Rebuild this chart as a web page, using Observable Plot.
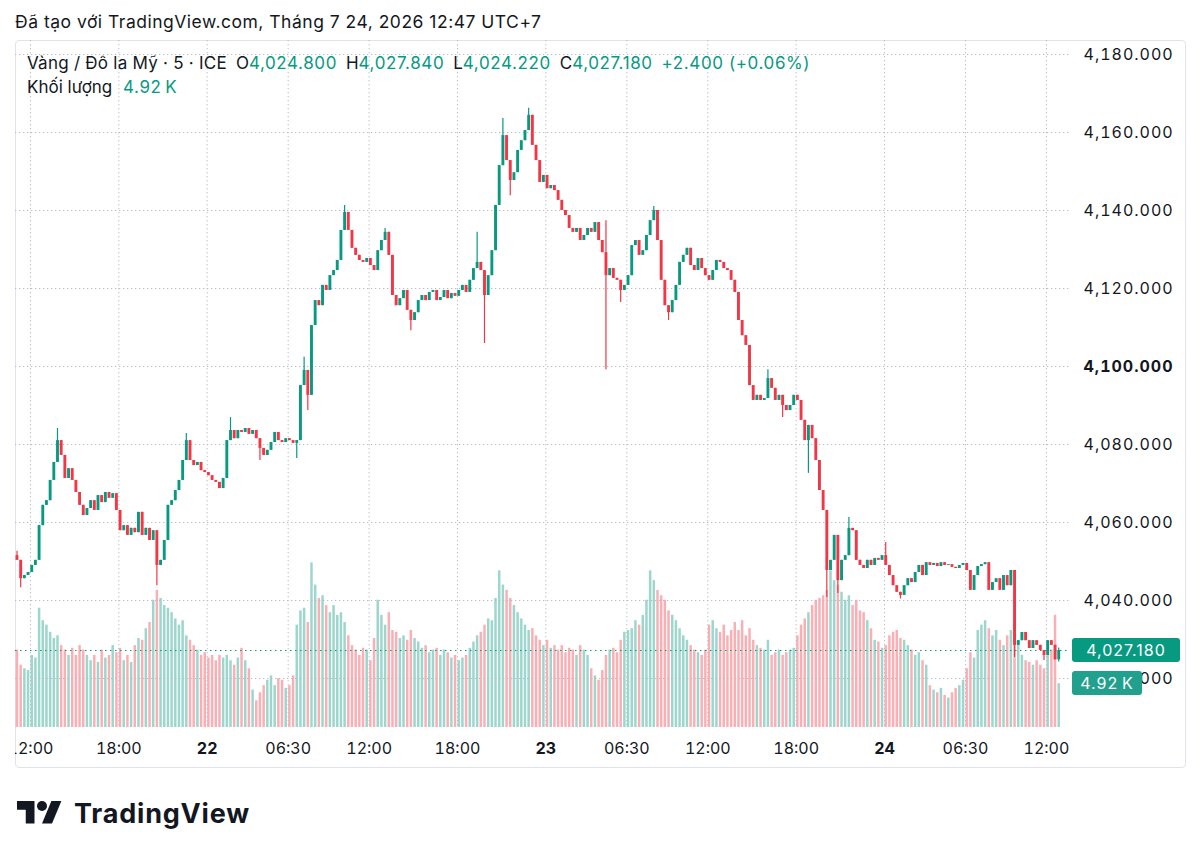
<!DOCTYPE html>
<html lang="vi">
<head>
<meta charset="utf-8">
<script src="https://cdn.jsdelivr.net/npm/d3@7"></script>
<script src="https://cdn.jsdelivr.net/npm/@observablehq/plot@0.6"></script>
<style>
  html, body { margin: 0; background: #fff; }
  body { font-family: Inter, "Noto Sans", sans-serif; color: #131722; }
  #page { position: relative; width: 1200px; height: 857px; overflow: hidden; }
  #credit { position: absolute; left: 15px; top: 11px; font-size: 17.5px; letter-spacing: 0.5px; line-height: 22px; white-space: nowrap; }
  #frame { position: absolute; left: 15px; top: 40px; width: 1171px; height: 728px; box-sizing: border-box; border: 1px solid #e0e3eb; border-radius: 4px; }
  .layer { position: absolute; left: 15px; top: 40px; }
  #legend { position: absolute; left: 27px; top: 51px; font-size: 17px; line-height: 24px; white-space: nowrap; }
  #legend .title { letter-spacing: 0.25px; }
  #legend .v { color: #089981; letter-spacing: 0.6px; }
  #legend .gap { margin-left: 9px; }
  .tag { position: absolute; color: #fff; font-size: 16px; letter-spacing: 1px; height: 24px; line-height: 24px; text-align: center; border-radius: 3px; }
  #brand { position: absolute; left: 17px; top: 796px; display: flex; align-items: center; }
  #brand span { font-size: 27px; font-weight: 700; letter-spacing: 0.8px; margin-left: 12px; color: #131722; }
  .price-axis text { letter-spacing: 1px; }
</style>
</head>
<body>
<div id="page">
  <div id="credit">Đã tạo với TradingView.com, Tháng 7 24, 2026 12:47 UTC+7</div>
  <div id="frame"></div>
  <div id="vol" class="layer"></div>
  <div id="price" class="layer"></div>
  <div id="legend"></div>
  <div id="brand">
    <svg width="45" height="35" viewBox="0 0 36 28" fill="#131722"><path d="M14 22H7V11H0V4h14v18zM28 22h-8l7.5-18h8L28 22z"/><circle cx="20" cy="8" r="4"/></svg>
    <span>TradingView</span>
  </div>
</div>
<script>
// XAU/USD, 15-minute bars from 21st 11:00 to 24th 12:45 (UTC+7); the last bar is the live 12:45 bar.
const firstOpen = 4051.5;
const closes = [
  4050.3, 4045.6, 4046.4, 4047.2, 4049.0, 4050.3, 4059.2, 4064.4, 4065.6, 4070.8,
  4075.4, 4081.0, 4077.2, 4071.3, 4073.8, 4070.8, 4067.7, 4064.4, 4061.8, 4063.6,
  4065.6, 4063.1, 4066.9, 4065.1, 4067.7, 4066.2, 4067.4, 4063.1, 4057.9, 4059.2,
  4056.7, 4058.5, 4057.4, 4062.6, 4056.7, 4058.5, 4055.4, 4057.9, 4049.0, 4050.3,
  4055.4, 4064.4, 4065.6, 4068.2, 4070.8, 4075.9, 4081.0, 4075.9, 4074.6, 4075.4,
  4073.3, 4072.8, 4072.0, 4070.8, 4070.3, 4068.7, 4071.3, 4081.0, 4083.6, 4081.5,
  4083.6, 4083.1, 4084.1, 4082.6, 4083.6, 4081.5, 4079.0, 4077.2, 4078.5, 4080.5,
  4083.1, 4081.0, 4080.5, 4081.5, 4081.0, 4080.3, 4081.0, 4095.1, 4099.0, 4092.6,
  4110.5, 4116.9, 4115.6, 4120.8, 4119.5, 4123.3, 4124.6, 4127.2, 4134.9, 4139.5,
  4134.9, 4130.3, 4128.5, 4127.2, 4126.7, 4127.7, 4125.9, 4124.6, 4129.7, 4132.3,
  4134.4, 4128.5, 4118.2, 4115.6, 4117.4, 4119.5, 4114.4, 4111.8, 4113.8, 4116.9,
  4118.2, 4116.9, 4119.0, 4119.5, 4116.9, 4117.7, 4119.5, 4117.4, 4118.7, 4118.0,
  4119.5, 4120.8, 4119.0, 4122.1, 4125.1, 4126.7, 4124.6, 4118.2, 4123.3, 4129.7,
  4141.3, 4151.5, 4159.2, 4152.8, 4147.7, 4149.7, 4155.4, 4157.9, 4160.5, 4164.4,
  4156.7, 4152.8, 4147.2, 4149.0, 4145.6, 4146.4, 4145.1, 4142.6, 4140.0, 4138.7,
  4135.4, 4134.4, 4135.4, 4132.3, 4133.6, 4135.4, 4134.4, 4136.9, 4132.3, 4129.2,
  4123.3, 4125.1, 4122.6, 4122.1, 4119.5, 4120.8, 4123.3, 4131.0, 4132.3, 4128.5,
  4129.7, 4133.6, 4137.4, 4140.0, 4132.3, 4122.1, 4115.6, 4113.8, 4116.9, 4120.8,
  4126.7, 4128.5, 4130.3, 4125.9, 4124.6, 4127.7, 4125.1, 4123.3, 4122.1, 4124.6,
  4127.2, 4126.7, 4125.1, 4124.6, 4122.1, 4119.0, 4111.8, 4107.9, 4105.4, 4095.1,
  4091.3, 4092.6, 4091.3, 4091.8, 4096.9, 4094.4, 4091.3, 4092.6, 4090.0, 4088.7,
  4090.0, 4092.6, 4091.3, 4086.2, 4081.0, 4084.9, 4081.5, 4075.9, 4068.2, 4063.1,
  4047.7, 4050.3, 4056.7, 4045.1, 4050.3, 4051.5, 4058.5, 4057.9, 4050.3, 4049.0,
  4048.2, 4050.3, 4049.0, 4050.8, 4050.3, 4051.5, 4049.0, 4046.4, 4043.8, 4042.1,
  4041.3, 4043.8, 4045.6, 4044.6, 4047.2, 4049.0, 4046.4, 4049.7, 4049.0, 4049.5,
  4048.7, 4049.7, 4049.0, 4049.2, 4048.5, 4048.2, 4049.0, 4049.5, 4047.7, 4042.6,
  4046.4, 4048.7, 4049.2, 4049.7, 4042.6, 4044.6, 4045.6, 4042.6, 4046.4, 4043.8,
  4047.7, 4028.5, 4029.7, 4031.8, 4029.7, 4027.7, 4029.7, 4028.5, 4027.2, 4025.9,
  4029.7, 4028.5, 4024.78
];
// live bar: open, high, low, close
const lastOHLC = [4024.80, 4027.84, 4024.22, 4027.18];

// volume per bar, thousands
const volumes = [
  8.7, 7.0, 6.6, 6.4, 8.1, 7.8, 13.4, 12.0, 11.5, 10.7,
  10.0, 10.3, 9.2, 8.7, 8.1, 8.9, 8.1, 9.2, 8.7, 8.1,
  7.5, 8.1, 7.3, 8.7, 7.8, 8.1, 9.2, 8.4, 8.9, 7.5,
  8.1, 7.3, 9.2, 10.0, 9.8, 11.1, 11.8, 14.3, 15.4, 14.5,
  13.7, 13.4, 12.9, 12.2, 11.5, 12.0, 10.3, 9.8, 9.2, 8.7,
  8.1, 8.4, 7.8, 8.1, 7.5, 8.1, 7.8, 8.1, 7.5, 7.0,
  7.8, 8.9, 7.5, 6.6, 4.2, 3.0, 3.9, 4.7, 5.3, 5.8,
  4.7, 5.5, 5.3, 4.4, 4.7, 5.8, 11.5, 13.1, 13.4, 11.8,
  18.5, 16.0, 14.5, 14.8, 13.7, 12.9, 13.7, 12.6, 12.9, 11.8,
  10.3, 9.2, 8.7, 8.1, 8.9, 8.7, 7.5, 10.0, 14.3, 12.6,
  11.5, 12.9, 10.9, 10.7, 10.0, 10.3, 9.8, 10.9, 10.0, 9.6,
  8.9, 9.2, 8.4, 8.7, 8.9, 8.1, 8.7, 8.4, 7.8, 8.1,
  7.5, 7.8, 8.1, 8.9, 9.6, 10.3, 10.7, 11.5, 12.2, 12.0,
  14.5, 17.6, 16.0, 15.4, 14.5, 13.7, 12.9, 12.2, 11.5, 10.9,
  11.1, 10.3, 9.8, 9.2, 9.8, 8.9, 9.2, 8.7, 9.2, 8.4,
  8.9, 8.7, 8.1, 9.2, 8.7, 8.1, 6.6, 5.8, 5.3, 6.4,
  8.1, 8.7, 8.9, 8.4, 9.8, 10.7, 10.9, 11.1, 12.0, 11.5,
  12.6, 14.3, 17.6, 16.5, 15.4, 14.8, 14.3, 13.1, 12.6, 12.0,
  11.1, 10.3, 9.8, 9.2, 8.7, 8.4, 8.1, 8.7, 11.5, 12.0,
  11.1, 10.7, 11.5, 10.3, 10.9, 11.8, 10.9, 12.0, 10.3, 11.1,
  9.8, 9.2, 8.9, 8.7, 9.8, 8.1, 8.4, 8.7, 8.1, 8.4,
  8.7, 8.9, 10.3, 11.5, 12.2, 12.9, 13.7, 14.3, 14.5, 14.8,
  15.4, 17.6, 16.5, 16.0, 15.2, 14.3, 14.8, 13.7, 14.3, 13.1,
  12.9, 12.0, 11.1, 9.8, 9.6, 8.9, 9.2, 10.3, 10.7, 10.9,
  10.0, 9.8, 9.2, 8.7, 8.1, 8.4, 7.5, 7.0, 4.7, 4.2,
  3.9, 4.4, 3.6, 3.3, 3.9, 4.4, 4.7, 5.3, 6.6, 8.4,
  7.8, 10.9, 11.5, 12.0, 11.1, 10.3, 10.9, 9.8, 9.2, 10.3,
  10.9, 11.5, 9.8, 8.1, 7.5, 7.3, 7.0, 7.5, 7.0, 6.6,
  8.1, 8.7, 12.6, 4.92
];

// wicks that reach beyond the bar bodies: bar index, high, low
const wickIdx  = [0, 1, 11, 38, 46, 58, 66, 76, 78, 79, 89, 100, 107, 125, 127, 132, 134, 139, 160, 164, 173, 177, 204, 208, 215, 220, 223, 226, 236, 240, 271, 279];
const wickHigh = [4052.6, null, 4084.1, null, 4082.8, 4086.9, null, null, 4102.4, null, 4141.3, 4135.4, null, 4134.4, null, 4163.6, null, 4166.2, 4137.4, null, 4141.0, null, 4099.2, null, null, null, null, 4061.3, 4054.9, null, null, null];
const wickLow  = [null, 4043.3, null, 4043.8, null, null, 4075.9, 4076.4, null, 4088.7, null, null, 4109.2, null, 4105.9, null, 4143.8, null, 4099.2, 4116.4, null, 4111.8, null, 4086.9, 4072.6, 4040.8, 4041.8, null, null, 4040.4, 4025.4, 4024.6];

// time axis: 5-minute slot counted from 21st 11:00 (trading hours only) and its label
const tickSlots  = [12, 84, 156, 222, 288, 360, 432, 498, 564, 636, 708, 774, 840];
const tickLabels = ["12:00", "18:00", "22", "06:30", "12:00", "18:00", "23", "06:30", "12:00", "18:00", "24", "06:30", "12:00"];
const dayTicks = ["22", "23", "24"];

const priceTicks = [4020, 4040, 4060, 4080, 4100, 4120, 4140, 4160, 4180];
const boldPrice = 4100;

const UP = "#089981", DOWN = "#f23645";

// assemble bars
const bars = closes.map((close, i) => {
  const open = i === 0 ? firstOpen : closes[i - 1];
  return {slot: 3 * i + 1, open, close, high: Math.max(open, close), low: Math.min(open, close), volume: volumes[i]};
});
bars.push({slot: 3 * closes.length + 1, open: lastOHLC[0], high: lastOHLC[1], low: lastOHLC[2], close: lastOHLC[3], volume: volumes[closes.length]});
wickIdx.forEach((k, j) => {
  if (wickHigh[j] != null) bars[k].high = Math.max(bars[k].high, wickHigh[j]);
  if (wickLow[j] != null) bars[k].low = Math.min(bars[k].low, wickLow[j]);
});
bars.forEach(b => b.color = b.close >= b.open ? UP : DOWN);

const last = bars[bars.length - 1];
const prevClose = closes[closes.length - 1];
const fmtP = d3.format(",.3f");
const labelOf = new Map(tickSlots.map((s, i) => [s, tickLabels[i]]));
const daySlots = tickSlots.filter((s, i) => dayTicks.includes(tickLabels[i]));
const timeSlots = tickSlots.filter((s, i) => !dayTicks.includes(tickLabels[i]));

const W = 1171, H = 728;
const frame = {width: W, height: H, marginLeft: 0, marginRight: 116, marginTop: 0, marginBottom: 41};
const xDomain = [-0.225, 859.6];
const font = {background: "transparent", overflow: "hidden", fontFamily: "Inter, 'Noto Sans', sans-serif", fontSize: "16px", color: "#131722"};

// volume pane (drawn beneath the price pane)
const volPlot = Plot.plot({
  ...frame,
  style: font,
  x: {type: "linear", domain: xDomain, axis: null},
  y: {domain: [0, 77.19], axis: null},
  marks: [
    Plot.ruleX(bars, {x: "slot", y1: 0, y2: "volume", stroke: "color", strokeOpacity: 0.4, strokeWidth: 2.5})
  ]
});
document.getElementById("vol").append(volPlot);

const pricePlot = Plot.plot({
  ...frame,
  style: font,
  x: {type: "linear", domain: xDomain},
  y: {domain: [4007.44, 4183.59]},
  marks: [
    Plot.gridY(priceTicks, {stroke: "#b8bcc6", strokeOpacity: 1, strokeDasharray: "1.3,2.7"}),
    Plot.gridX(tickSlots, {stroke: "#b8bcc6", strokeOpacity: 1, strokeDasharray: "1.3,2.7"}),
    Plot.ruleX(bars, {x: "slot", y1: "low", y2: "high", stroke: "color", strokeWidth: 1.2}),
    Plot.ruleX(bars, {x: "slot", y1: "open", y2: "close", stroke: "color", strokeWidth: 2.9}),
    Plot.ruleY([last.close], {stroke: UP, strokeWidth: 1.2, strokeDasharray: "1.5,3.5"}),
    Plot.axisY(priceTicks.filter(d => d !== boldPrice), {anchor: "right", tickSize: 0, tickPadding: 13, textAnchor: "start", tickFormat: fmtP, label: null, className: "price-axis"}),
    Plot.axisY([boldPrice], {anchor: "right", tickSize: 0, tickPadding: 13, textAnchor: "start", tickFormat: fmtP, label: null, fontWeight: "bold", className: "price-axis"}),
    Plot.axisX(timeSlots, {anchor: "bottom", tickSize: 0, tickPadding: 15, tickFormat: d => labelOf.get(d), label: null}),
    Plot.axisX(daySlots, {anchor: "bottom", tickSize: 0, tickPadding: 15, tickFormat: d => labelOf.get(d), label: null, fontWeight: "bold"})
  ]
});
document.getElementById("price").append(pricePlot);

// legend
const v = (s) => `<span class="v">${s}</span>`;
const chg = last.close - prevClose;
const pct = chg / prevClose * 100;
const sign = chg >= 0 ? "+" : "";
document.getElementById("legend").innerHTML =
  `<div><span class="title">Vàng / Đô la Mỹ · 5 · ICE</span>` +
  `<span class="gap">O</span>${v(fmtP(last.open))}` +
  `<span class="gap">H</span>${v(fmtP(last.high))}` +
  `<span class="gap">L</span>${v(fmtP(last.low))}` +
  `<span class="gap">C</span>${v(fmtP(last.close))}` +
  `<span class="gap v">${sign}${d3.format(".3f")(chg)} (${sign}${d3.format(".2f")(pct)}%)</span></div>` +
  `<div>Khối lượng <span class="v" style="margin-left:6px">${d3.format(".2f")(last.volume)}\u202FK</span></div>`;

// price and volume tags on the price scale
const page = document.getElementById("page");
const yP = pricePlot.scale("y").apply(last.close) + 40;
const yV = volPlot.scale("y").apply(last.volume) + 40;
const tag = (text, top, width, bg) => {
  const el = document.createElement("div");
  el.className = "tag";
  el.textContent = text;
  Object.assign(el.style, {left: "1072px", top: `${top - 12}px`, width: `${width}px`, background: bg});
  page.append(el);
};
tag(fmtP(last.close), yP, 108, UP);
tag(`${d3.format(".2f")(last.volume)}\u202FK`, yV, 70, "#22a08e");
</script>
</body>
</html>
